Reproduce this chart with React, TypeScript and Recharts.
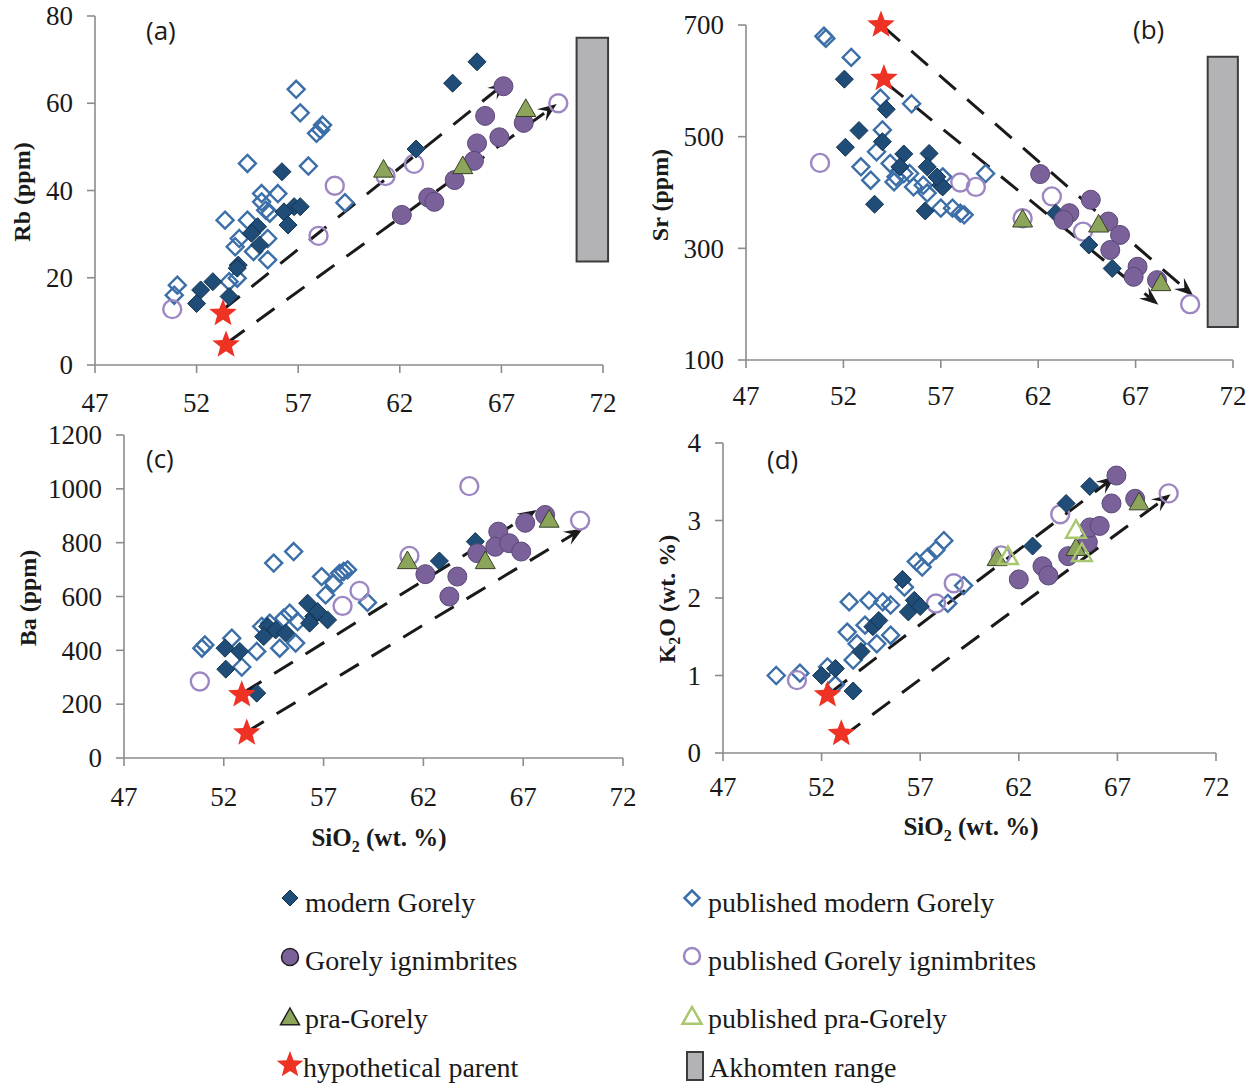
import React from 'react';
import { ScatterChart, Scatter, XAxis, YAxis, ReferenceLine, ReferenceArea } from 'recharts';

type Pt = [number, number];

const xTicks = [47, 52, 57, 62, 67, 72];

// (a) Rb (ppm) vs SiO2
const rbModern: Pt[] = [[65.8, 69.5], [64.6, 64.6], [62.8, 49.5], [56.2, 44.3], [56.8, 36.3], [57.1, 36.3], [56.3, 35.1], [56.5, 32.1], [55.0, 31.7], [54.7, 30.2], [55.1, 27.5], [54.05, 22.9], [54.0, 22.2], [52.8, 19.1], [52.2, 17.2], [52.0, 14.1], [53.6, 15.7]];
const rbPubModern: Pt[] = [[56.9, 63.2], [57.1, 57.8], [58.2, 55.0], [57.9, 53.1], [58.1, 53.9], [54.5, 46.2], [57.5, 45.6], [59.3, 37.2], [55.2, 39.3], [56.0, 39.3], [55.2, 37.4], [55.4, 35.5], [55.6, 34.8], [53.4, 33.2], [54.5, 33.2], [54.1, 29.0], [53.9, 27.1], [55.5, 29.0], [54.8, 26.0], [55.5, 24.1], [53.6, 19.1], [54.0, 19.9], [51.05, 18.3], [50.9, 16.0]];
const rbIgn: Pt[] = [[67.1, 63.9], [66.2, 57.1], [65.8, 50.8], [66.9, 52.2], [68.1, 55.5], [65.65, 46.8], [64.7, 42.4], [63.4, 38.4], [63.7, 37.4], [62.1, 34.4]];
const rbPubIgn: Pt[] = [[50.8, 12.8], [58.8, 41.1], [58.0, 29.6], [61.3, 43.3], [62.7, 46.1], [69.8, 60.0]];
const rbPra: Pt[] = [[61.2, 44.7], [65.1, 45.5], [68.2, 58.6]];
const rbParent: Pt[] = [[53.3, 11.8], [53.45, 4.6]];
const rbTrends: Pt[][] = [[[53.28, 12.6], [67.26, 64.9]], [[53.48, 5.0], [69.72, 59.8]]];
const rbAkhomten: Pt = [23.7, 75];

// (b) Sr (ppm) vs SiO2
const srModern: Pt[] = [[52.05, 603], [54.2, 549], [52.8, 511], [52.1, 481], [54.0, 491], [55.1, 469], [56.4, 470], [56.3, 446], [57.0, 413], [57.1, 410], [53.6, 379], [56.2, 367], [62.9, 363], [64.6, 306], [65.8, 264], [54.9, 446], [56.8, 428]];
const srPubModern: Pt[] = [[51.0, 680], [51.1, 676], [52.4, 642], [53.9, 569], [55.5, 559], [54.0, 512], [53.7, 473], [52.9, 446], [53.4, 422], [54.4, 452], [54.6, 419], [55.1, 434], [55.4, 434], [55.6, 410], [56.1, 413], [56.3, 399], [57.0, 372], [57.1, 428], [57.6, 372], [58.0, 363], [58.2, 360], [59.3, 434], [54.7, 428]];
const srIgn: Pt[] = [[62.1, 433], [64.7, 387], [63.6, 363], [63.3, 351], [65.6, 348], [66.2, 324], [65.7, 297], [67.1, 267], [66.9, 249], [68.1, 243]];
const srPubIgn: Pt[] = [[50.8, 453], [58.0, 418], [58.8, 410], [62.7, 393], [61.2, 354], [64.3, 330], [69.8, 200]];
const srPra: Pt[] = [[61.2, 351], [65.1, 342], [68.3, 237]];
const srParent: Pt[] = [[53.93, 700], [54.08, 604]];
const srTrends: Pt[][] = [[[54.05, 697], [69.96, 215]], [[54.2, 596], [68.17, 199]]];
const srAkhomten: Pt = [159, 643];

// (c) Ba (ppm) vs SiO2
const baModern: Pt[] = [[52.06, 408], [52.8, 396], [52.1, 330], [53.65, 241], [54.2, 489], [54.6, 476], [55.1, 464], [54.0, 451], [56.2, 575], [56.5, 526], [56.7, 544], [57.2, 513], [56.3, 501], [64.6, 804], [62.8, 732]];
const baPubModern: Pt[] = [[50.9, 408], [51.05, 420], [52.4, 445], [52.9, 338], [53.65, 396], [53.9, 489], [54.5, 724], [55.5, 767], [56.9, 674], [57.1, 606], [57.5, 649], [58.0, 693], [58.2, 699], [59.2, 578], [54.8, 408], [55.6, 427], [55.0, 519], [55.3, 538], [55.7, 507], [54.3, 501], [57.8, 686]];
const baIgn: Pt[] = [[62.1, 683], [63.7, 674], [63.3, 600], [64.7, 761], [65.75, 841], [65.6, 785], [66.3, 798], [66.9, 767], [67.1, 874], [68.1, 903]];
const baPubIgn: Pt[] = [[50.8, 284], [58.8, 621], [57.95, 565], [61.3, 751], [64.3, 1010], [69.85, 882]];
const baPra: Pt[] = [[61.2, 730], [65.1, 730], [68.3, 884]];
const baParent: Pt[] = [[52.9, 235], [53.15, 93]];
const baTrends: Pt[][] = [[[52.95, 241], [67.67, 921]], [[53.06, 93], [70.0, 853]]];

// (d) K2O (wt. %) vs SiO2
const kModern: Pt[] = [[52.0, 1.0], [52.7, 1.09], [53.6, 0.8], [54.0, 1.31], [54.6, 1.63], [54.9, 1.71], [56.1, 2.24], [56.4, 1.82], [56.7, 1.97], [57.0, 1.89], [62.7, 2.67], [64.4, 3.22], [65.6, 3.44]];
const kPubModern: Pt[] = [[49.7, 1.0], [50.9, 1.03], [52.3, 1.11], [52.7, 0.88], [53.4, 1.95], [54.4, 1.97], [53.3, 1.56], [53.6, 1.2], [53.8, 1.41], [54.2, 1.65], [54.8, 1.41], [55.1, 1.95], [55.5, 1.91], [55.5, 1.52], [56.2, 2.14], [56.8, 2.47], [57.1, 2.4], [57.4, 2.53], [57.8, 2.62], [58.2, 2.74], [58.4, 1.93], [59.2, 2.16]];
const kIgn: Pt[] = [[62.0, 2.24], [63.2, 2.41], [63.5, 2.29], [64.5, 2.54], [65.5, 2.72], [65.6, 2.91], [66.1, 2.93], [66.7, 3.22], [66.95, 3.58], [67.9, 3.28]];
const kPubIgn: Pt[] = [[50.75, 0.94], [57.8, 1.93], [58.7, 2.19], [61.1, 2.55], [64.1, 3.08], [69.6, 3.35]];
const kPra: Pt[] = [[60.9, 2.51], [64.9, 2.64], [68.1, 3.23]];
const kPubPra: Pt[] = [[61.45, 2.53], [64.9, 2.87], [65.2, 2.57]];
const kParent: Pt[] = [[52.3, 0.75], [53.0, 0.25]];
const kTrends: Pt[][] = [[[52.4, 0.77], [66.9, 3.57]], [[53.06, 0.21], [69.7, 3.34]]];

const C = {
  modern: '#1f4d78',
  modernEdge: '#123350',
  pubModern: '#3c6fa8',
  ign: '#7a6199',
  ignEdge: '#5b4777',
  pubIgn: '#9c87c3',
  pra: '#8da55a',
  praEdge: '#364126',
  pubPra: '#a8c76e',
  star: '#ee3224',
  akh: '#b3b3b5',
  akhEdge: '#3c3c3c',
  axis: '#8c8c8c',
  text: '#1a1a1a',
};

const serif = '"Liberation Serif", "DejaVu Serif", serif';

const diamondPath = (cx: number, cy: number, s: number) =>
  `M${cx},${cy - s}L${cx + s},${cy}L${cx},${cy + s}L${cx - s},${cy}Z`;
const trianglePath = (cx: number, cy: number, s: number) =>
  `M${cx},${cy - s}L${cx + s * 0.95},${cy + s * 0.68}L${cx - s * 0.95},${cy + s * 0.68}Z`;
const starPath = (cx: number, cy: number, R: number, r: number) => {
  let d = '';
  for (let i = 0; i < 10; i++) {
    const a = ((-90 + i * 36) * Math.PI) / 180;
    const rad = i % 2 === 0 ? R : r;
    d += (i === 0 ? 'M' : 'L') + (cx + rad * Math.cos(a)).toFixed(2) + ',' + (cy + rad * Math.sin(a)).toFixed(2);
  }
  return d + 'Z';
};

const shapes: Record<string, (p: any) => React.ReactElement> = {
  modern: (p) => <path d={diamondPath(p.cx, p.cy, 9)} fill={C.modern} stroke={C.modernEdge} strokeWidth={1} />,
  pubModern: (p) => <path d={diamondPath(p.cx, p.cy, 8.5)} fill="none" stroke={C.pubModern} strokeWidth={2.4} />,
  ign: (p) => <circle cx={p.cx} cy={p.cy} r={9.5} fill={C.ign} stroke={C.ignEdge} strokeWidth={1} />,
  pubIgn: (p) => <circle cx={p.cx} cy={p.cy} r={9} fill="none" stroke={C.pubIgn} strokeWidth={2.4} />,
  pra: (p) => <path d={trianglePath(p.cx, p.cy, 10.5)} fill={C.pra} stroke={C.praEdge} strokeWidth={1} />,
  pubPra: (p) => <path d={trianglePath(p.cx, p.cy, 10.5)} fill="none" stroke={C.pubPra} strokeWidth={2.4} />,
  parent: (p) => <path d={starPath(p.cx, p.cy, 14.5, 6.2)} fill={C.star} />,
};

const ArrowLine = (p: any) => {
  const { x1, y1, x2, y2 } = p;
  const dx = x2 - x1;
  const dy = y2 - y1;
  const len = Math.hypot(dx, dy) || 1;
  const ux = dx / len;
  const uy = dy / len;
  const L = 19;
  const W = 7.5;
  const bx = x2 - ux * L;
  const by = y2 - uy * L;
  const nx = x2 - ux * L * 0.62;
  const ny = y2 - uy * L * 0.62;
  const px = -uy;
  const py = ux;
  return (
    <g>
      <line x1={x1} y1={y1} x2={nx} y2={ny} stroke={C.text} strokeWidth={3} strokeDasharray="22 15" />
      <path d={`M${x2},${y2}L${bx + px * W},${by + py * W}L${nx},${ny}L${bx - px * W},${by - py * W}Z`} fill={C.text} />
    </g>
  );
};

const XTick = (p: any) => (
  <text x={p.x} y={p.y} dy="0.74em" textAnchor="middle" fill={C.text} fontSize={27} fontFamily={serif}>
    {p.payload.value}
  </text>
);
const YTick = (p: any) => (
  <text x={p.x} y={p.y} dy="0.34em" textAnchor="end" fill={C.text} fontSize={27} fontFamily={serif}>
    {p.payload.value}
  </text>
);

const toXY = (pts: Pt[]) => pts.map(([x, y]) => ({ x, y }));

interface PanelCfg {
  left: number; top: number; width: number; height: number;
  yw: number; mt: number; mr: number; xh: number; xtm: number;
  yDomain: [number, number]; yTicks: number[];
  series: [string, Pt[]][];
  trends: Pt[][];
  akh?: Pt;
}

const panels: PanelCfg[] = [
  {
    left: 0, top: 0, width: 640, height: 420, yw: 95, mt: 16, mr: 37, xh: 40, xtm: 19,
    yDomain: [0, 80], yTicks: [0, 20, 40, 60, 80],
    series: [['pubModern', rbPubModern], ['pubIgn', rbPubIgn], ['modern', rbModern], ['ign', rbIgn], ['pra', rbPra], ['parent', rbParent]],
    trends: rbTrends, akh: rbAkhomten,
  },
  {
    left: 640, top: 0, width: 612, height: 420, yw: 106, mt: 25, mr: 19, xh: 45, xtm: 17,
    yDomain: [100, 700], yTicks: [100, 300, 500, 700],
    series: [['pubModern', srPubModern], ['pubIgn', srPubIgn], ['modern', srModern], ['ign', srIgn], ['pra', srPra], ['parent', srParent]],
    trends: srTrends, akh: srAkhomten,
  },
  {
    left: 0, top: 420, width: 640, height: 400, yw: 124, mt: 15, mr: 17, xh: 47, xtm: 20,
    yDomain: [0, 1200], yTicks: [0, 200, 400, 600, 800, 1000, 1200],
    series: [['pubModern', baPubModern], ['pubIgn', baPubIgn], ['modern', baModern], ['ign', baIgn], ['pra', baPra], ['parent', baParent]],
    trends: baTrends,
  },
  {
    left: 640, top: 420, width: 612, height: 400, yw: 83, mt: 23, mr: 36, xh: 52, xtm: 15,
    yDomain: [0, 4], yTicks: [0, 1, 2, 3, 4],
    series: [['pubModern', kPubModern], ['pubIgn', kPubIgn], ['modern', kModern], ['ign', kIgn], ['pra', kPra], ['pubPra', kPubPra], ['parent', kParent]],
    trends: kTrends,
  },
];

function Panel({ cfg }: { cfg: PanelCfg }) {
  return (
    <div style={{ position: 'absolute', left: cfg.left, top: cfg.top }}>
      <ScatterChart width={cfg.width} height={cfg.height} margin={{ top: cfg.mt, right: cfg.mr, bottom: 15, left: 0 }}>
        <XAxis
          type="number" dataKey="x" domain={[47, 72]} ticks={xTicks} interval={0}
          height={cfg.xh} tickSize={8} tickMargin={cfg.xtm}
          stroke={C.axis} strokeWidth={1.6} tick={XTick}
        />
        <YAxis
          type="number" dataKey="y" domain={cfg.yDomain} ticks={cfg.yTicks} interval={0}
          width={cfg.yw} tickSize={8} tickMargin={14}
          stroke={C.axis} strokeWidth={1.6} tick={YTick}
        />
        {cfg.akh && (
          <ReferenceArea
            x1={70.7} x2={72.25} y1={cfg.akh[0]} y2={cfg.akh[1]} ifOverflow="visible"
            fill={C.akh} fillOpacity={1} stroke={C.akhEdge} strokeWidth={2}
          />
        )}
        {cfg.series.map(([kind, pts]) => (
          <Scatter key={kind} data={toXY(pts)} shape={shapes[kind]} isAnimationActive={false} />
        ))}
        {cfg.trends.map((t, i) => (
          <ReferenceLine
            key={i} ifOverflow="visible"
            segment={[{ x: t[0][0], y: t[0][1] }, { x: t[1][0], y: t[1][1] }]}
            shape={ArrowLine}
          />
        ))}
      </ScatterChart>
    </div>
  );
}

const panelLabels = [
  { text: '(a)', x: 146, y: 16 },
  { text: '(b)', x: 1133, y: 15 },
  { text: '(c)', x: 146, y: 444 },
  { text: '(d)', x: 767, y: 445 },
];

const legendItems = [
  { kind: 'modern', label: 'modern Gorely', mx: 290, my: 898, tx: 305, ty: 903 },
  { kind: 'ign', label: 'Gorely ignimbrites', mx: 290, my: 957, tx: 305, ty: 961 },
  { kind: 'pra', label: 'pra-Gorely', mx: 290, my: 1017, tx: 305, ty: 1019 },
  { kind: 'parent', label: 'hypothetical parent', mx: 290, my: 1065, tx: 303, ty: 1068 },
  { kind: 'pubModern', label: 'published modern Gorely', mx: 692, my: 898, tx: 708, ty: 903 },
  { kind: 'pubIgn', label: 'published Gorely ignimbrites', mx: 692, my: 956, tx: 708, ty: 961 },
  { kind: 'pubPra', label: 'published pra-Gorely', mx: 692, my: 1016, tx: 708, ty: 1019 },
  { kind: 'akh', label: 'Akhomten range', mx: 695, my: 1066, tx: 709, ty: 1068 },
];

function LegendMarker({ kind }: { kind: string }) {
  const c = 15;
  let el: React.ReactElement;
  if (kind === 'modern') el = <path d={diamondPath(c, c, 8)} fill={C.modern} stroke={C.modernEdge} strokeWidth={1} />;
  else if (kind === 'pubModern') el = <path d={diamondPath(c, c, 7.5)} fill="none" stroke={C.pubModern} strokeWidth={2.5} />;
  else if (kind === 'ign') el = <circle cx={c} cy={c} r={8.5} fill={C.ign} stroke="#222" strokeWidth={1.5} />;
  else if (kind === 'pubIgn') el = <circle cx={c} cy={c} r={8} fill="none" stroke={C.pubIgn} strokeWidth={2.5} />;
  else if (kind === 'pra') el = <path d={trianglePath(c, c + 1, 10)} fill={C.pra} stroke="#222" strokeWidth={1.5} />;
  else if (kind === 'pubPra') el = <path d={trianglePath(c, c + 1, 10)} fill="none" stroke={C.pubPra} strokeWidth={2.5} />;
  else if (kind === 'parent') el = <path d={starPath(c, c, 14, 6)} fill={C.star} />;
  else el = <rect x={c - 8} y={c - 14} width={16} height={28} fill={C.akh} stroke={C.akhEdge} strokeWidth={2} />;
  return <svg width={30} height={30} style={{ display: 'block' }}>{el}</svg>;
}

const yTitle = (content: React.ReactNode, x: number, y: number) => (
  <div
    style={{
      position: 'absolute', left: x, top: y, transform: 'translate(-50%, -50%) rotate(-90deg)',
      fontFamily: serif, fontWeight: 'bold', fontSize: 24, whiteSpace: 'nowrap', color: C.text, lineHeight: 1,
    }}
  >
    {content}
  </div>
);

const xTitle = (x: number, y: number) => (
  <div
    style={{
      position: 'absolute', left: x, top: y, transform: 'translate(-50%, -50%)',
      fontFamily: serif, fontWeight: 'bold', fontSize: 25, whiteSpace: 'nowrap', color: C.text, lineHeight: 1,
    }}
  >
    SiO<sub style={{ fontSize: 16 }}>2</sub> (wt. %)
  </div>
);

export default function App() {
  return (
    <div style={{ position: 'absolute', left: 0, top: 0, width: 1252, height: 1085, background: '#fff', overflow: 'hidden', fontFamily: serif }}>
      {panels.map((p, i) => <Panel key={i} cfg={p} />)}
      {panelLabels.map((l) => (
        <div key={l.text} style={{ position: 'absolute', left: l.x, top: l.y, fontFamily: '"Open Sans", sans-serif', fontSize: 26, lineHeight: 1.1, color: C.text }}>
          {l.text}
        </div>
      ))}
      {yTitle('Rb (ppm)', 22, 192)}
      {yTitle('Sr (ppm)', 660, 195)}
      {yTitle('Ba (ppm)', 28, 598)}
      {yTitle(<span>K<sub style={{ fontSize: 16 }}>2</sub>O (wt. %)</span>, 669, 599)}
      {xTitle(379, 840)}
      {xTitle(971, 829)}
      {legendItems.map((it) => (
        <React.Fragment key={it.label}>
          <div style={{ position: 'absolute', left: it.mx - 15, top: it.my - 15 }}>
            <LegendMarker kind={it.kind} />
          </div>
          <div
            style={{
              position: 'absolute', left: it.tx, top: it.ty - 16, fontFamily: serif, fontSize: 28,
              lineHeight: '32px', whiteSpace: 'nowrap', color: C.text,
            }}
          >
            {it.label}
          </div>
        </React.Fragment>
      ))}
    </div>
  );
}
